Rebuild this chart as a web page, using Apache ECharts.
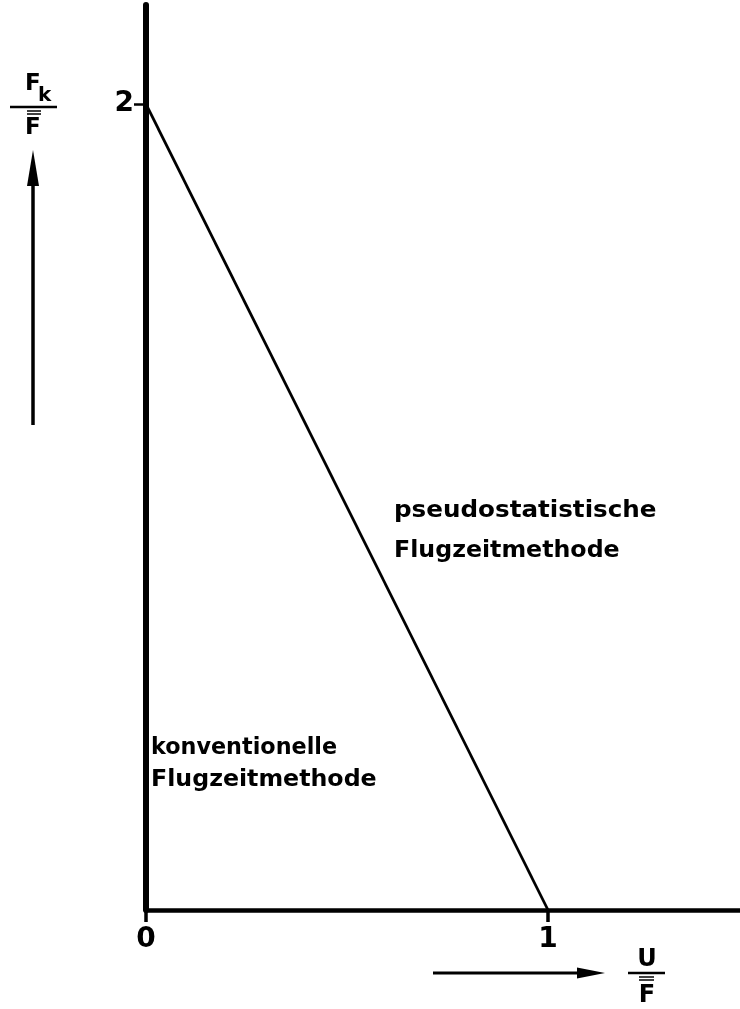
<!DOCTYPE html>
<html>
<head>
<meta charset="utf-8">
<script src="https://cdn.jsdelivr.net/npm/echarts@6/dist/echarts.min.js"></script>
<style>
  html, body { margin: 0; padding: 0; background: #fff; }
  #chart { width: 740px; height: 1009px; }
</style>
</head>
<body>
<div id="chart"></div>
<script>
// Boundary between the two flight-time methods: Fk/F falls linearly from 2 to 0 as U/F goes 0 -> 1
const ratioU = [0, 1];    // U / F
const ratioFk = [2, 0];   // Fk / F
const xTicks = [0, 1];
const yTicks = [2];
const upperRegionLines = ['pseudostatistische', 'Flugzeitmethode'];
const lowerRegionLines = ['konventionelle', 'Flugzeitmethode'];

const FONT = '"DejaVu Sans", sans-serif';
const INK = '#000';

const chart = echarts.init(document.getElementById('chart'), null, { renderer: 'canvas' });

function label(text, x, y, size, sx, align) {
  return {
    type: 'text', x: x, y: y, scaleX: sx || 1,
    style: {
      text: text, fill: INK, font: 'bold ' + size + 'px ' + FONT,
      textAlign: align || 'left', textVerticalAlign: 'middle'
    }
  };
}
function rule(x1, y1, x2, y2, w) {
  return { type: 'line', shape: { x1: x1, y1: y1, x2: x2, y2: y2 }, style: { stroke: INK, lineWidth: w } };
}
function head(points) {
  return { type: 'polygon', shape: { points: points }, style: { fill: INK } };
}

const graphics = [
  // region captions
  label(upperRegionLines[0], 394, 511, 23, 1.07),
  label(upperRegionLines[1], 394, 551, 23, 1.03),
  label(lowerRegionLines[0], 151, 748, 23, 0.97),
  label(lowerRegionLines[1], 151, 780, 23, 1.03),

  // y quantity: Fk over F with double overline, and upward arrow
  label('F', 25, 84, 23),
  label('k', 38, 96, 20),
  rule(10, 107, 57, 107, 2.5),
  rule(27, 111, 41, 111, 1.5),
  rule(27, 114, 41, 114, 1.5),
  label('F', 25, 128, 23),
  rule(33, 425, 33, 180, 3.5),
  head([[33, 150], [27, 186], [39, 186]]),

  // x quantity: U over F with double overline, and rightward arrow
  label('U', 647, 960, 24, 1, 'center'),
  rule(628, 973, 665, 973, 2.5),
  rule(639, 977, 654, 977, 1.5),
  rule(639, 980, 654, 980, 1.5),
  label('F', 647, 996, 24, 1, 'center'),
  rule(433, 973, 580, 973, 3),
  head([[605, 973], [577, 967.5], [577, 978.5]])
];

const option = {
  backgroundColor: '#fff',
  animation: false,
  grid: { left: 146, right: 0, top: 5, bottom: 99, containLabel: false },
  xAxis: {
    type: 'value', min: 0, max: 1.4776,
    axisLine: { show: true, onZero: false, lineStyle: { color: INK, width: 4.5 } },
    splitLine: { show: false },
    axisTick: { show: true, customValues: xTicks, length: 12, lineStyle: { color: INK, width: 3.5 } },
    axisLabel: {
      customValues: xTicks, color: INK, fontSize: 28, fontWeight: 'bold', fontFamily: FONT, margin: 16,
      formatter: v => String(v)
    }
  },
  yAxis: {
    type: 'value', min: 0, max: 2.246,
    axisLine: { show: true, onZero: false, lineStyle: { color: INK, width: 6 } },
    splitLine: { show: false },
    axisTick: { show: true, customValues: yTicks, length: 12, lineStyle: { color: INK, width: 2.5 } },
    axisLabel: {
      customValues: yTicks, color: INK, fontSize: 28, fontWeight: 'bold', fontFamily: FONT, margin: 12,
      formatter: v => String(v)
    }
  },
  series: [{
    type: 'line',
    data: ratioU.map((u, i) => [u, ratioFk[i]]),
    symbol: 'none',
    clip: false,
    lineStyle: { color: INK, width: 2.8 }
  }],
  graphic: graphics
};

chart.setOption(option);
</script>
</body>
</html>
